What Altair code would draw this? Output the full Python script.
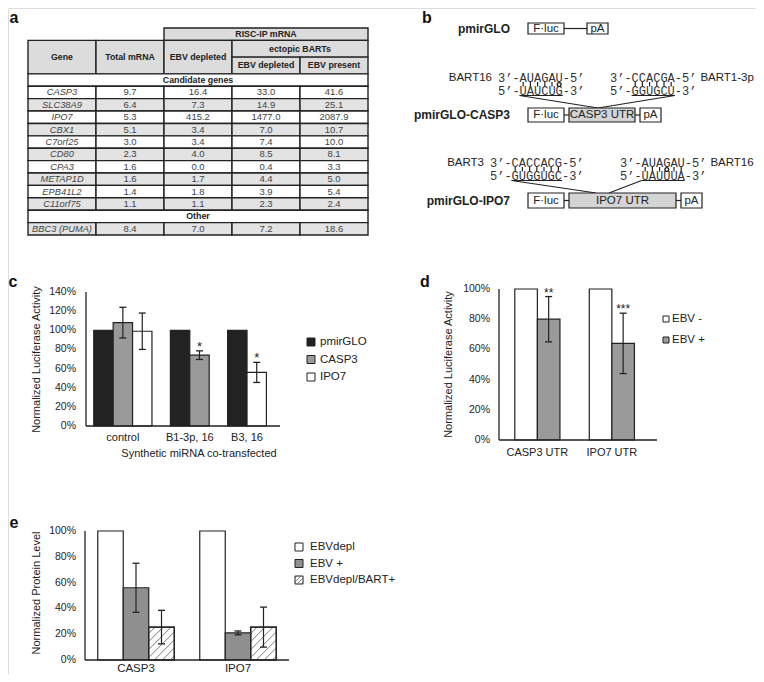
import altair as alt
import pandas as pd

# ============================ DATA ============================
# --- panel a: fold enrichment table ---
header_texts = ["RISC-IP mRNA", "Gene", "Total mRNA", "EBV depleted",
                "ectopic BARTs", "EBV depleted", "EBV present"]
section_titles = ["Candidate genes", "Other"]
gene_names = ["CASP3", "SLC38A9", "IPO7", "CBX1", "C7orf25", "CD80", "CPA3",
              "METAP1D", "EPB41L2", "C11orf75"]
total_mrna = [9.7, 6.4, 5.3, 5.1, 3.0, 2.3, 1.6, 1.6, 1.4, 1.1]
risc_ebv_depleted = [16.4, 7.3, 415.2, 3.4, 3.4, 4.0, 0.0, 1.7, 1.8, 1.1]
bart_ebv_depleted = [33.0, 14.9, 1477.0, 7.0, 7.4, 8.5, 0.4, 4.4, 3.9, 2.3]
bart_ebv_present = [41.6, 25.1, 2087.9, 10.7, 10.0, 8.1, 3.3, 5.0, 5.4, 2.4]
other_names = ["BBC3 (PUMA)"]
other_total = [8.4]
other_risc = [7.0]
other_bart_depleted = [7.2]
other_bart_present = [18.6]

# --- panel b: reporter constructs ---
construct_names = ["pmirGLO", "pmirGLO-CASP3", "pmirGLO-IPO7"]
construct_utrs = ["", "CASP3 UTR", "IPO7 UTR"]
casp3_site_mirnas = ["BART16", "BART1-3p"]
casp3_site_mirna_seqs = ["AUAGAU", "CCACGA"]      # written 3'->5'
casp3_site_target_seqs = ["UAUCUG", "GGUGCU"]     # written 5'->3'
ipo7_site_mirnas = ["BART3", "BART16"]
ipo7_site_mirna_seqs = ["CACCACG", "AUAGAU"]
ipo7_site_target_seqs = ["GUGGUGC", "UAUUUA"]

# --- panel c ---
c_series = ["pmirGLO", "CASP3", "IPO7"]
c_bar_group = ["control", "control", "control", "B1-3p, 16", "B1-3p, 16", "B3, 16", "B3, 16"]
c_bar_series = ["pmirGLO", "CASP3", "IPO7", "pmirGLO", "CASP3", "pmirGLO", "IPO7"]
c_value = [100, 108, 99, 100, 74, 100, 56]
c_error = [0, 16, 19, 0, 4.5, 0, 10.5]
c_star = ["", "", "", "", "*", "", "*"]
c_yticks = [0, 20, 40, 60, 80, 100, 120, 140]

# --- panel d ---
d_series = ["EBV -", "EBV +"]
d_bar_group = ["CASP3 UTR", "CASP3 UTR", "IPO7 UTR", "IPO7 UTR"]
d_bar_series = ["EBV -", "EBV +", "EBV -", "EBV +"]
d_value = [100, 80, 100, 64]
d_error = [0, 15, 0, 20]
d_star = ["", "**", "", "***"]
d_yticks = [0, 20, 40, 60, 80, 100]

# --- panel e ---
e_series = ["EBVdepl", "EBV +", "EBVdepl/BART+"]
e_bar_group = ["CASP3", "CASP3", "CASP3", "IPO7", "IPO7", "IPO7"]
e_bar_series = ["EBVdepl", "EBV +", "EBVdepl/BART+", "EBVdepl", "EBV +", "EBVdepl/BART+"]
e_value = [100, 56, 25.5, 100, 21, 25.5]
e_error = [0, 19, 13, 0, 1.5, 15.5]
e_star = ["", "", "", "", "", ""]
e_yticks = [0, 20, 40, 60, 80, 100]

# ============================ STYLE / LAYOUT ============================
M = 8
W, H = 748, 666
FONT = "Liberation Sans"
MONO = "Liberation Mono"
INK = "#222222"
TXT = "#333333"
HDR_FILL = "#dcdcdc"
ROW_FILL = "#e3e3e3"
UTR_FILL = "#d4d4d4"
C_FILL = {"pmirGLO": "#222222", "CASP3": "#9a9a9a", "IPO7": "#ffffff"}
D_FILL = {"EBV -": "#ffffff", "EBV +": "#9a9a9a"}
E_FILL = {"EBVdepl": "#ffffff", "EBV +": "#8f8f8f", "EBVdepl/BART+": "#ffffff"}
E_HATCHED = {"EBVdepl/BART+"}


def P(v):
    return v - M


def S(domain, pix):
    return alt.Scale(domain=list(domain), range=[P(pix[0]), P(pix[1])], nice=False, zero=False)


PX = S((0, 764), (0, 764))
PY = S((0, 682), (0, 682))


def pic_text(rows, **mark):
    base = dict(font=FONT, color=TXT, baseline="middle")
    base.update(mark)
    return alt.Chart(pd.DataFrame(rows)).mark_text(**base).encode(
        x=alt.X("x:Q", scale=PX, axis=None),
        y=alt.Y("y:Q", scale=PY, axis=None),
        text="text:N")


def pic_rect(rows, **mark):
    base = dict(stroke=INK, strokeWidth=1.2)
    base.update(mark)
    return alt.Chart(pd.DataFrame(rows)).mark_rect(**base).encode(
        x=alt.X("x0:Q", scale=PX, axis=None), x2="x1:Q",
        y=alt.Y("y0:Q", scale=PY, axis=None), y2="y1:Q",
        fill=alt.Fill("fill:N", scale=None))


def pic_seg(rows, **mark):
    base = dict(color=INK, strokeWidth=1.2)
    base.update(mark)
    return alt.Chart(pd.DataFrame(rows)).mark_rule(**base).encode(
        x=alt.X("x0:Q", scale=PX, axis=None), x2="x1:Q",
        y=alt.Y("y0:Q", scale=PY, axis=None), y2="y1:Q")


def hatch_segments(X0, X1, Y0, Y1, step):
    """'/' lines inside a rectangle of an upward-y pixel frame."""
    segs = []
    kmin, kmax = Y0 - X1, Y1 - X0
    k = kmin + step / 2
    while k < kmax:
        xa = max(X0, Y0 - k)
        xb = min(X1, Y1 - k)
        if xb > xa:
            segs.append((xa, xa + k, xb, xb + k))
        k += step
    return segs


# ============================ PANEL A: table ============================
T_HDR = [0, 1, 2.35, 3.7]
n_rows = T_HDR[-1] + 1 + len(gene_names) + 1 + len(other_names)
T_X = S((0, 5), (28, 368))
T_Y = S((0, n_rows), (28, 235))

hdr_spans = [(2, 5, 0, 1), (0, 1, 1, 3), (1, 2, 1, 3), (2, 3, 1, 3),
             (3, 5, 1, 2), (3, 4, 2, 3), (4, 5, 2, 3)]
cells, ttexts = [], []
for t, (c0, c1, r0, r1) in zip(header_texts, hdr_spans):
    y0, y1 = T_HDR[r0], T_HDR[r1]
    cells.append(dict(x0=c0, x1=c1, y0=y0, y1=y1, fill=HDR_FILL))
    ttexts.append(dict(x=(c0 + c1) / 2, y=(y0 + y1) / 2, text=t, kind="bold"))

row = T_HDR[-1]
blocks = [
    (section_titles[0], gene_names, [total_mrna, risc_ebv_depleted, bart_ebv_depleted, bart_ebv_present], 0),
    (section_titles[1], other_names, [other_total, other_risc, other_bart_depleted, other_bart_present], 1),
]
for title, names, cols, shade0 in blocks:
    cells.append(dict(x0=0, x1=5, y0=row, y1=row + 1, fill="#ffffff"))
    ttexts.append(dict(x=2.5, y=row + 0.5, text=title, kind="bold"))
    row += 1
    for i, name in enumerate(names):
        fill = ROW_FILL if (i + shade0) % 2 == 1 else "#ffffff"
        cells.append(dict(x0=0, x1=1, y0=row, y1=row + 1, fill=fill))
        ttexts.append(dict(x=0.5, y=row + 0.5, text=name, kind="gene"))
        for j, col in enumerate(cols):
            cells.append(dict(x0=j + 1, x1=j + 2, y0=row, y1=row + 1, fill=fill))
            ttexts.append(dict(x=j + 1.5, y=row + 0.5, text=f"{col[i]:.1f}", kind="num"))
        row += 1

tdf = pd.DataFrame(ttexts)


def table_text(kind, **mark):
    base = dict(font=FONT, baseline="middle", align="center")
    base.update(mark)
    return alt.Chart(tdf[tdf.kind == kind]).mark_text(**base).encode(
        x=alt.X("x:Q", scale=T_X, axis=None),
        y=alt.Y("y:Q", scale=T_Y, axis=None),
        text="text:N")


table_cells = alt.Chart(pd.DataFrame(cells)).mark_rect(stroke=INK, strokeWidth=1.4).encode(
    x=alt.X("x0:Q", scale=T_X, axis=None), x2="x1:Q",
    y=alt.Y("y0:Q", scale=T_Y, axis=None), y2="y1:Q",
    fill=alt.Fill("fill:N", scale=None))
panel_a = alt.layer(
    table_cells,
    table_text("bold", fontSize=8.8, fontWeight="bold", color=INK),
    table_text("gene", fontSize=9.3, fontStyle="italic", color="#444444"),
    table_text("num", fontSize=9.5, color="#444444"),
)

# ============================ PANEL B: constructs ============================
CH = 0.6 * 12  # monospace advance at 12px
B_LABEL_RIGHT = 510
B_FLUC = (528, 564)
B_CONN = 5
B_PLAIN_LINE = 23
B_PA_W = 21
B_ROWS = {"pmirGLO": (23, 34), "pmirGLO-CASP3": (108, 122), "pmirGLO-IPO7": (193, 208)}
B_UTR_W = {"pmirGLO-CASP3": 66, "pmirGLO-IPO7": 107}
B_SITES = {
    "pmirGLO-CASP3": dict(mirnas=casp3_site_mirnas, mseq=casp3_site_mirna_seqs,
                          tseq=casp3_site_target_seqs, lefts=[498, 610], ytop=77.5, ybot=90.5,
                          links=[(0, "start", (598, 108)), (1, "end", (598, 108))]),
    "pmirGLO-IPO7": dict(mirnas=ipo7_site_mirnas, mseq=ipo7_site_mirna_seqs,
                         tseq=ipo7_site_target_seqs, lefts=[490, 620], ytop=162.5, ybot=175.5,
                         links=[(0, "start", (596, 193)), (1, "start", (609, 193))]),
}

b_boxes, b_box_text, b_bold, b_segs = [], [], [], []
b_mono, b_lab_r, b_lab_l, b_wobble = [], [], [], []
for name, utr in zip(construct_names, construct_utrs):
    y0, y1 = B_ROWS[name]
    ym = (y0 + y1) / 2
    b_bold.append(dict(x=B_LABEL_RIGHT, y=ym, text=name))
    b_boxes.append(dict(x0=B_FLUC[0], x1=B_FLUC[1], y0=y0, y1=y1, fill="#ffffff"))
    b_box_text.append(dict(x=sum(B_FLUC) / 2, y=ym, text="F·luc"))
    x = B_FLUC[1]
    if utr:
        b_segs.append(dict(x0=x, x1=x + B_CONN, y0=ym, y1=ym))
        x += B_CONN
        b_boxes.append(dict(x0=x, x1=x + B_UTR_W[name], y0=y0, y1=y1, fill=UTR_FILL))
        b_box_text.append(dict(x=x + B_UTR_W[name] / 2, y=ym, text=utr))
        x += B_UTR_W[name]
        b_segs.append(dict(x0=x, x1=x + B_CONN, y0=ym, y1=ym))
        x += B_CONN
    else:
        b_segs.append(dict(x0=x, x1=x + B_PLAIN_LINE, y0=ym, y1=ym))
        x += B_PLAIN_LINE
    b_boxes.append(dict(x0=x, x1=x + B_PA_W, y0=y0, y1=y1, fill="#ffffff"))
    b_box_text.append(dict(x=x + B_PA_W / 2, y=ym, text="pA"))

    if name in B_SITES:
        s = B_SITES[name]
        ends = []
        for k, (mir, ms, ts, left) in enumerate(zip(s["mirnas"], s["mseq"], s["tseq"], s["lefts"])):
            top = f"3’-{ms}-5’"
            bot = f"5’-{ts}-3’"
            b_mono.append(dict(x=left, y=s["ytop"], text=top))
            b_mono.append(dict(x=left, y=s["ybot"], text=bot))
            if k == 0:
                b_lab_r.append(dict(x=left - 6, y=s["ytop"], text=mir))
            else:
                b_lab_l.append(dict(x=left + len(top) * CH + 4, y=s["ytop"], text=mir))
            for i, (a, b) in enumerate(zip(ms, ts)):
                cx = left + (3 + i + 0.5) * CH
                pair = {a, b}
                if pair in ({"A", "U"}, {"G", "C"}):
                    b_segs.append(dict(x0=cx, x1=cx, y0=s["ytop"] + 4.5, y1=s["ybot"] - 4))
                elif pair == {"G", "U"}:
                    b_wobble.append(dict(x=cx, y=(s["ytop"] + s["ybot"]) / 2 + 0.5))
            ux0 = left + 3 * CH
            ux1 = left + (3 + len(ts)) * CH
            uy = s["ybot"] + 5
            b_segs.append(dict(x0=ux0, x1=ux1, y0=uy, y1=uy))
            ends.append((ux0, ux1, uy))
        for k, which, (tx, ty) in s["links"]:
            ux0, ux1, uy = ends[k]
            sx = ux0 if which == "start" else ux1
            b_segs.append(dict(x0=sx, x1=tx, y0=uy, y1=ty))

b_layers = [
    pic_seg(b_segs, strokeWidth=1.2),
    pic_rect(b_boxes, strokeWidth=1.2),
    pic_text(b_box_text, align="center", fontSize=11.5, color=INK),
    pic_text(b_bold, align="right", fontSize=12, fontWeight="bold", color=INK),
    pic_text(b_mono, align="left", font=MONO, fontSize=12, color=TXT),
    pic_text(b_lab_r, align="right", fontSize=11.5, color=INK),
    pic_text(b_lab_l, align="left", fontSize=11.5, color=INK),
    alt.Chart(pd.DataFrame(b_wobble)).mark_point(
        shape="circle", filled=False, size=14, strokeWidth=1.4, color=INK, opacity=1).encode(
        x=alt.X("x:Q", scale=PX, axis=None), y=alt.Y("y:Q", scale=PY, axis=None)),
]

# ============================ PANEL LETTERS ============================
letters = [dict(x=14, y=23, text="a"), dict(x=427, y=23, text="b"),
           dict(x=13, y=287, text="c"), dict(x=425, y=287, text="d"),
           dict(x=14, y=528, text="e")]
letter_layer = pic_text(letters, align="center", baseline="alphabetic",
                        fontSize=16, fontWeight="bold", color="#111111")


# ============================ LEGENDS ============================
def legend_layers(names, fills, x0, yc0, dy, sq, tx, size, hatched=()):
    rects, texts, hatch = [], [], []
    for i, n in enumerate(names):
        yc = yc0 + i * dy
        rects.append(dict(x0=x0, x1=x0 + sq, y0=yc - sq / 2, y1=yc + sq / 2, fill=fills[n]))
        texts.append(dict(x=tx, y=yc, text=n))
        if n in hatched:
            for xa, ya, xb, yb in hatch_segments(x0, x0 + sq, -(yc + sq / 2), -(yc - sq / 2), 4):
                hatch.append(dict(x0=xa, x1=xb, y0=-ya, y1=-yb))
    out = [pic_rect(rects, strokeWidth=1.0)]
    if hatch:
        out.append(pic_seg(hatch, strokeWidth=0.7, color="#555555"))
    out.append(pic_text(texts, align="left", fontSize=size, color=INK))
    return out


legends = (legend_layers(c_series, C_FILL, 307, 342, 17.5, 8, 320, 11.5)
           + legend_layers(d_series, D_FILL, 663, 319, 21, 6, 672, 11.5)
           + legend_layers(e_series, E_FILL, 295, 547, 16.5, 8, 310, 11.5, E_HATCHED))

overlay = alt.layer(*b_layers, letter_layer, *legends)


# ============================ BAR PANELS ============================
def bar_positions(groups, start, gap):
    xs, pos, prev = [], start, None
    for g in groups:
        if prev is not None and g != prev:
            pos += gap
        xs.append(pos)
        pos += 1.0
        prev = g
    return xs


def bar_panel(groups, series, values, errors, stars, fills, hatched,
              xdom, xpix, ydom, ypix, yticks, start, gap,
              ytitle, ytitle_pos, xtitle="", xtitle_pos=(0, 0),
              tick_size=10.5, xlab_size=11, xlab_pad=6, xlab_baseline="top", ylab_pad=9,
              cap_px=3.5, star_size=13):
    xs, ys = S(xdom, xpix), S(ydom, ypix)
    ppx = (xpix[1] - xpix[0]) / (xdom[1] - xdom[0])
    ppy = (ypix[0] - ypix[1]) / (ydom[1] - ydom[0])
    df = pd.DataFrame({"group": groups, "series": series, "value": values,
                       "err": errors, "star": stars})
    df["x0"] = bar_positions(groups, start, gap)
    df["x1"] = df.x0 + 1.0
    df["xc"] = df.x0 + 0.5
    df["base"] = 0.0
    df["lo"] = df.value - df.err
    df["hi"] = df.value + df.err
    df["fill"] = [fills[s] for s in series]

    order = list(dict.fromkeys(groups))
    centres = [float((df[df.group == g].x0.min() + df[df.group == g].x1.max()) / 2) for g in order]

    X = lambda f: alt.X(f, scale=xs, axis=None)
    Y = lambda f: alt.Y(f, scale=ys, axis=None)

    layers = [alt.Chart(df).mark_rect(stroke=INK, strokeWidth=1.2).encode(
        x=X("x0:Q"), x2="x1:Q", y=Y("value:Q"), y2="base:Q",
        fill=alt.Fill("fill:N", scale=None))]

    hrows = []
    for _, r in df[df.series.isin(hatched)].iterrows():
        for xa, ya, xb, yb in hatch_segments(r.x0 * ppx, r.x1 * ppx, 0.0, r.value * ppy, 8):
            hrows.append(dict(hx0=xa / ppx, hx1=xb / ppx, hy0=ya / ppy, hy1=yb / ppy))
    if hrows:
        layers.append(alt.Chart(pd.DataFrame(hrows)).mark_rule(color="#555555", strokeWidth=0.8).encode(
            x=X("hx0:Q"), x2="hx1:Q", y=Y("hy0:Q"), y2="hy1:Q"))
        layers.append(alt.Chart(df[df.series.isin(hatched)]).mark_rect(
            stroke=INK, strokeWidth=1.2, fillOpacity=0).encode(
            x=X("x0:Q"), x2="x1:Q", y=Y("value:Q"), y2="base:Q"))

    # axis lines
    ax = pd.DataFrame([dict(ax0=xdom[0], ax1=xdom[0], ay0=ydom[0], ay1=ydom[1]),
                       dict(ax0=xdom[0], ax1=xdom[1], ay0=ydom[0], ay1=ydom[0])])
    layers.append(alt.Chart(ax).mark_rule(color=INK, strokeWidth=1.3).encode(
        x=X("ax0:Q"), x2="ax1:Q", y=Y("ay0:Q"), y2="ay1:Q"))
    # y tick labels
    yt = pd.DataFrame({"tv": yticks, "tx": [xdom[0]] * len(yticks),
                       "label": [f"{v}%" for v in yticks]})
    layers.append(alt.Chart(yt).mark_text(font=FONT, fontSize=tick_size, color=INK,
                                          align="right", baseline="middle", dx=-ylab_pad).encode(
        x=X("tx:Q"), y=Y("tv:Q"), text="label:N"))
    # x category labels
    xt = pd.DataFrame({"cx": centres, "cy": [ydom[0]] * len(centres), "label": order})
    layers.append(alt.Chart(xt).mark_text(font=FONT, fontSize=xlab_size, color=INK,
                                          align="center", baseline=xlab_baseline, dy=xlab_pad).encode(
        x=X("cx:Q"), y=Y("cy:Q"), text="label:N"))
    # titles
    layers.append(alt.Chart(pd.DataFrame({"t": [ytitle]})).mark_text(
        font=FONT, fontSize=11, color=INK, angle=270, align="center", baseline="middle").encode(
        x=alt.value(P(ytitle_pos[0])), y=alt.value(P(ytitle_pos[1])), text="t:N"))
    if xtitle:
        layers.append(alt.Chart(pd.DataFrame({"t": [xtitle]})).mark_text(
            font=FONT, fontSize=11, color=INK, align="center", baseline="middle").encode(
            x=alt.value(P(xtitle_pos[0])), y=alt.value(P(xtitle_pos[1])), text="t:N"))

    dfe = df[df.err > 0]
    layers.append(alt.Chart(dfe).mark_rule(color=INK, strokeWidth=1.2).encode(
        x=X("xc:Q"), y=Y("lo:Q"), y2="hi:Q"))
    caps = [dict(cy=v, cx0=r.xc - cap_px / ppx, cx1=r.xc + cap_px / ppx)
            for _, r in dfe.iterrows() for v in (r.lo, r.hi)]
    layers.append(alt.Chart(pd.DataFrame(caps)).mark_rule(color=INK, strokeWidth=1.3).encode(
        x=X("cx0:Q"), x2="cx1:Q", y=Y("cy:Q")))
    dfs = df[df.star != ""]
    if len(dfs):
        layers.append(alt.Chart(dfs).mark_text(font=FONT, fontSize=star_size, color=INK,
                                               baseline="alphabetic", align="center").encode(
            x=X("xc:Q"), y=Y("hi:Q"), text="star:N"))
    return alt.layer(*layers)


panel_c = bar_panel(c_bar_group, c_bar_series, c_value, c_error, c_star, C_FILL, set(),
                    (0, 10), (86, 280), (0, 140), (426, 292), c_yticks, 0.4, 0.95,
                    "Normalized Luciferase Activity", (37, 359.5),
                    "Synthetic miRNA co-transfected", (199, 454),
                    tick_size=10.5, xlab_size=11, xlab_pad=6, ylab_pad=10, star_size=13)
panel_d = bar_panel(d_bar_group, d_bar_series, d_value, d_error, d_star, D_FILL, set(),
                    (0, 7), (499, 657), (0, 100), (440, 289), d_yticks, 0.7, 1.3,
                    "Normalized Luciferase Activity", (449, 364.5),
                    tick_size=10.5, xlab_size=11, xlab_pad=7, ylab_pad=9, star_size=12)
panel_e = bar_panel(e_bar_group, e_bar_series, e_value, e_error, e_star, E_FILL, E_HATCHED,
                    (0, 8), (85, 289), (0, 100), (660, 531), e_yticks, 0.5, 1.0,
                    "Normalized Protein Level", (37, 593),
                    tick_size=10.5, xlab_size=11.5, xlab_pad=14, xlab_baseline="bottom", ylab_pad=9)

chart = alt.layer(overlay, panel_a, panel_c, panel_d, panel_e).resolve_scale(
    x="independent", y="independent"
).properties(
    width=W, height=H, autosize=alt.AutoSizeParams(type="none"), padding=0
).configure_view(stroke=None).configure(font=FONT, background="white")

chart.save("out.html", embed_options={"renderer": "svg", "actions": False})
